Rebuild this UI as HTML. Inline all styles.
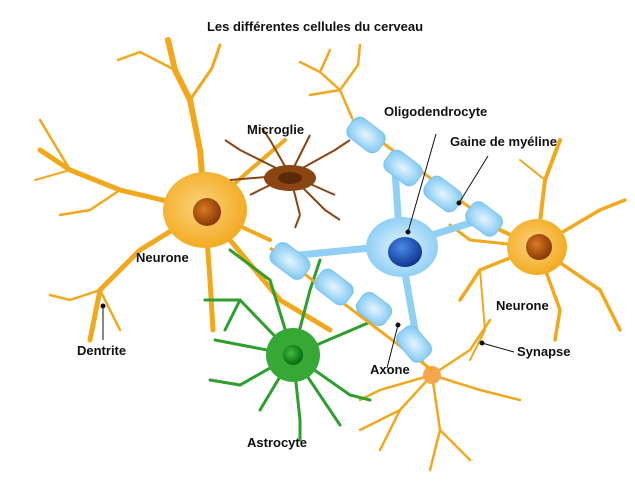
<!DOCTYPE html>
<html><head><meta charset="utf-8"><style>
html,body{margin:0;padding:0;background:#fff}
svg{display:block}
text{font-family:"Liberation Sans",sans-serif;font-weight:bold;font-size:13px;fill:#111}
</style></head><body>
<svg width="635" height="490" viewBox="0 0 635 490" xmlns="http://www.w3.org/2000/svg">
<defs>
<radialGradient id="og" cx="0.45" cy="0.45" r="0.6"><stop offset="0" stop-color="#fcd27a"/><stop offset="1" stop-color="#f2a81c"/></radialGradient>
<radialGradient id="nu" cx="0.4" cy="0.4" r="0.6"><stop offset="0" stop-color="#d97a1e"/><stop offset="1" stop-color="#8a3a08"/></radialGradient>
<radialGradient id="bl" cx="0.5" cy="0.5" r="0.6"><stop offset="0" stop-color="#e5f5ff"/><stop offset="1" stop-color="#7fc8f2"/></radialGradient>
<radialGradient id="bn" cx="0.4" cy="0.35" r="0.7"><stop offset="0" stop-color="#4a8ae8"/><stop offset="1" stop-color="#0b2f8a"/></radialGradient>
<radialGradient id="gn" cx="0.4" cy="0.4" r="0.6"><stop offset="0" stop-color="#3fbf3f"/><stop offset="1" stop-color="#0b6a12"/></radialGradient>
</defs>
<text x="315" y="31" text-anchor="middle" font-size="12">Les différentes cellules du cerveau</text>

<g stroke="#f2a81c" fill="none" stroke-linecap="round" stroke-linejoin="round">
<path d="M205 210 L200 150 L190 100 L175 70 L168 40" stroke-width="6"/>
<path d="M190 100 L212 68 L220 45" stroke-width="3"/>
<path d="M175 70 L140 52 L118 60" stroke-width="2.5"/>
<path d="M205 210 L120 190 L70 170 L40 150" stroke-width="5"/>
<path d="M120 190 L90 210 L60 215" stroke-width="2.5"/>
<path d="M205 210 L140 250 L100 290 L90 340" stroke-width="5"/>
<path d="M100 290 L70 300 L50 295" stroke-width="2.5"/>
<path d="M100 290 L120 330" stroke-width="2.5"/>
<path d="M205 210 L210 280 L213 330" stroke-width="5"/>
<path d="M205 210 L280 300 L330 330" stroke-width="5"/>
<path d="M205 210 L250 170 L285 140" stroke-width="4"/>
<path d="M205 210 L270 240" stroke-width="4"/>
<path d="M70 170 L40 120" stroke-width="2.5"/>
<path d="M70 170 L35 180" stroke-width="2"/>
</g>
<ellipse cx="205" cy="210" rx="42" ry="38" fill="url(#og)"/>
<circle cx="207" cy="212" r="14" fill="url(#nu)"/>

<g stroke="#8b4513" fill="none" stroke-width="2">
<path d="M290 175 L240 150 M290 175 L250 195 M290 175 L270 140 M290 175 L310 135 M290 175 L335 150 M290 175 L335 195 M290 175 L300 215 M290 175 L325 210 M290 175 L230 180 M240 150 L225 140 M270 140 L262 128 M335 150 L350 140 M300 215 L295 228 M325 210 L340 220"/>
</g>
<ellipse cx="290" cy="178" rx="26" ry="13" fill="#8b4513"/>
<ellipse cx="290" cy="178" rx="12" ry="6" fill="#5a2a0a"/>

<g stroke="#f2a81c" fill="none" stroke-linecap="round">
<path d="M537 247 L545 180 L560 140" stroke-width="4"/>
<path d="M537 247 L600 210 L625 200" stroke-width="3.5"/>
<path d="M537 247 L600 290 L620 330" stroke-width="3.5"/>
<path d="M537 247 L560 310 L555 340" stroke-width="3.5"/>
<path d="M537 247 L480 270 L460 300" stroke-width="3.5"/>
<path d="M537 247 L470 240 L450 225" stroke-width="3"/>
<path d="M537 247 L500 230" stroke-width="4"/>
<path d="M545 180 L520 160" stroke-width="2"/>
<path d="M480 270 L485 330 L470 360" stroke-width="2"/>
</g>
<ellipse cx="537" cy="247" rx="30" ry="28" fill="url(#og)"/>
<circle cx="539" cy="247" r="13" fill="url(#nu)"/>

<g stroke="#f2a81c" fill="none" stroke-linecap="round" stroke-width="2.5">
<path d="M432 375 L415 350 M432 375 L470 350 L490 320 M432 375 L480 390 L520 400 M432 375 L440 430 L430 470 M432 375 L400 410 L380 450 M432 375 L380 390 L360 400 M440 430 L470 460 M400 410 L360 430"/>
</g>
<circle cx="432" cy="375" r="9" fill="#f6a64c"/>

<g stroke="#f2a81c" fill="none" stroke-linecap="round" stroke-width="2.5">
<path d="M352 118 L340 90 L320 72 L300 62 M340 90 L358 65 L360 45 M340 90 L310 95 M320 72 L330 50"/>
</g>

<g stroke="#2e9e2e" fill="none" stroke-linecap="round" stroke-width="3">
<path d="M293 355 L240 300 L205 300 M293 355 L270 280 L230 250 M293 355 L310 290 L320 260 M293 355 L375 320 M293 355 L350 395 L370 400 M293 355 L300 420 L300 440 M293 355 L240 385 L210 380 M293 355 L260 410 M293 355 L340 425 M293 355 L215 340 M240 300 L225 330"/>
</g>
<circle cx="293" cy="355" r="27" fill="#36a836"/>
<circle cx="293" cy="355" r="10" fill="url(#gn)"/>

<g stroke="#8fd0f4" fill="none" stroke-linecap="round" stroke-width="7">
<path d="M400 245 L300 255 M400 245 L395 170 M400 245 L480 220 M400 245 L415 330"/>
</g>
<g stroke="#f2a81c" stroke-width="3" fill="none">
<path d="M352 120 L500 230"/><path d="M270 248 L432 370"/>
</g>
<g fill="url(#bl)" stroke="#7ac4ee" stroke-width="1">
<rect x="-19" y="-12" width="38" height="24" rx="8" transform="translate(366,135) rotate(37)"/>
<rect x="-19" y="-12" width="38" height="24" rx="8" transform="translate(403,168) rotate(37)"/>
<rect x="-19" y="-12" width="38" height="24" rx="8" transform="translate(443,194) rotate(37)"/>
<rect x="-18" y="-12" width="36" height="24" rx="8" transform="translate(484,219) rotate(37)"/>
<rect x="-20" y="-12" width="40" height="24" rx="8" transform="translate(290,261) rotate(37)"/>
<rect x="-19" y="-12" width="38" height="24" rx="8" transform="translate(334,287) rotate(37)"/>
<rect x="-17" y="-12" width="34" height="24" rx="8" transform="translate(374,309) rotate(37)"/>
<rect x="-18" y="-12" width="36" height="24" rx="8" transform="translate(414,344) rotate(50)"/>
</g>
<ellipse cx="402" cy="247" rx="36" ry="30" fill="url(#bl)"/>
<ellipse cx="405" cy="252" rx="17" ry="15" fill="url(#bn)"/>

<g stroke="#111" stroke-width="1" fill="#111">
<line x1="436" y1="134" x2="408" y2="232"/><circle cx="408" cy="232" r="2"/>
<line x1="488" y1="156" x2="459" y2="203"/><circle cx="459" cy="203" r="2"/>
<line x1="398" y1="325" x2="387" y2="368"/><circle cx="398" cy="325" r="2"/>
<line x1="482" y1="343" x2="514" y2="352"/><circle cx="482" cy="343" r="2"/>
<line x1="103" y1="306" x2="103" y2="340"/><circle cx="103" cy="306" r="2"/>
</g>

<text x="247" y="134">Microglie</text>
<text x="384" y="116">Oligodendrocyte</text>
<text x="450" y="146">Gaine de myéline</text>
<text x="136" y="262">Neurone</text>
<text x="496" y="310">Neurone</text>
<text x="77" y="355">Dentrite</text>
<text x="517" y="356">Synapse</text>
<text x="370" y="374">Axone</text>
<text x="247" y="447">Astrocyte</text>
</svg>
</body></html>
